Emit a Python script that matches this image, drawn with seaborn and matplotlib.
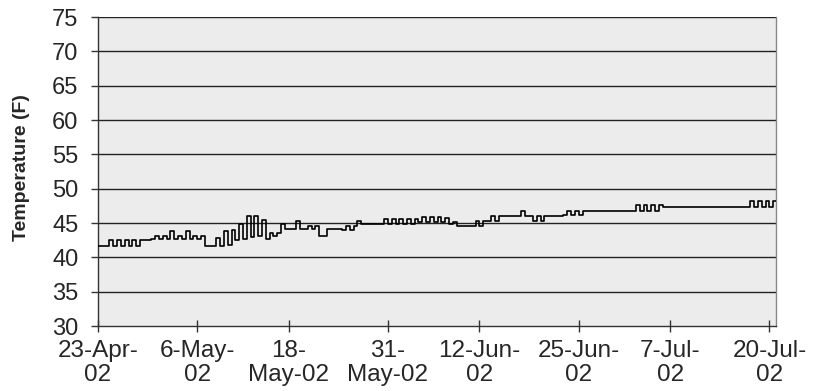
import matplotlib
matplotlib.use("Agg")
import matplotlib.pyplot as plt
import seaborn as sns
import pandas as pd

# Daily temperature readings (F) from 23-Apr-02: first and second half of each day
start_date = "2002-04-23"
temp_am = [
    41.7, 41.7, 41.7, 41.7, 41.7, 41.7, 42.5, 42.6, 42.6, 42.6,
    42.6, 42.6, 42.6, 42.6, 41.7, 41.7, 41.6, 41.8, 42.5, 42.7,
    43.0, 43.1, 42.7, 43.1, 44.8, 44.1, 45.3, 44.1, 44.1, 43.1,
    44.1, 44.1, 44.0, 44.0, 45.3, 44.8, 44.8, 44.8, 44.8, 44.8,
    44.8, 44.8, 45.1, 45.1, 45.1, 45.1, 44.9, 44.6, 44.6, 44.6,
    44.6, 45.3, 45.3, 46.0, 46.0, 46.0, 46.0, 45.3, 45.3, 46.0,
    46.0, 46.1, 46.1, 46.1, 46.8, 46.8, 46.8, 46.8, 46.8, 46.8,
    46.8, 46.8, 46.8, 46.8, 47.4, 47.4, 47.4, 47.4, 47.4, 47.4,
    47.4, 47.4, 47.4, 47.4, 47.4, 47.4, 47.4, 47.4, 47.4,
]
temp_pm = [
    41.7, 42.5, 42.5, 42.5, 42.5, 42.5, 42.5, 43.1, 43.1, 43.8,
    43.1, 43.8, 43.1, 43.1, 41.7, 42.8, 43.8, 44.0, 44.8, 46.0,
    46.0, 45.5, 43.5, 43.5, 44.1, 44.1, 44.1, 44.6, 44.6, 43.1,
    44.1, 44.1, 44.5, 44.5, 44.8, 44.8, 44.8, 45.6, 45.6, 45.6,
    45.6, 45.6, 45.9, 45.9, 45.9, 45.7, 45.2, 44.6, 44.6, 45.3,
    45.3, 46.0, 46.0, 46.0, 46.0, 46.7, 46.0, 46.0, 46.0, 46.0,
    46.0, 46.7, 46.7, 46.7, 46.8, 46.8, 46.8, 46.8, 46.8, 46.8,
    47.6, 47.6, 47.6, 47.6, 47.4, 47.4, 47.4, 47.4, 47.4, 47.4,
    47.4, 47.4, 47.4, 47.4, 47.4, 48.2, 48.2, 48.2, 48.2,
]
tick_dates = ["2002-04-23", "2002-05-06", "2002-05-18", "2002-05-31",
              "2002-06-12", "2002-06-25", "2002-07-07", "2002-07-20"]
tick_labels = ["23-Apr-\n02", "6-May-\n02", "18-\nMay-02", "31-\nMay-02",
               "12-Jun-\n02", "25-Jun-\n02", "7-Jul-\n02", "20-Jul-\n02"]
y_ticks = [30, 35, 40, 45, 50, 55, 60, 65, 70, 75]

t0 = pd.Timestamp(start_date)
times, temps = [], []
for d, (a, p) in enumerate(zip(temp_am, temp_pm)):
    times += [t0 + pd.Timedelta(days=d), t0 + pd.Timedelta(days=d + 0.5)]
    temps += [a, p]
times.append(t0 + pd.Timedelta(days=len(temp_am)))
temps.append(temp_pm[-1])
df = pd.DataFrame({"time": times, "temp": temps})

sns.set_theme(style="white")
plt.rcParams["font.family"] = ["Liberation Sans", "DejaVu Sans"]

fig = plt.figure(figsize=(8.16, 3.91), dpi=100)
ax = fig.add_axes([98 / 816, 1 - 326 / 391, (776 - 98) / 816, (326 - 17) / 391])
ax.set_facecolor("#ececec")

sns.lineplot(data=df, x="time", y="temp", ax=ax, color="black", linewidth=1.2,
             drawstyle="steps-post", estimator=None, sort=True, zorder=3)

ax.set_ylim(30, 75)
ax.set_yticks(y_ticks)
ax.set_xlim(t0, t0 + pd.Timedelta(days=88.86))
ax.set_xticks(pd.to_datetime(tick_dates))
ax.set_xticklabels(tick_labels, linespacing=1.1)

for v in y_ticks[1:]:
    ax.axhline(v, color="#222222", linewidth=1.0, zorder=1)

for s in ["left", "bottom"]:
    ax.spines[s].set_color("#333333")
    ax.spines[s].set_linewidth(1.0)
ax.spines["right"].set_color("#888888")
ax.spines["right"].set_linewidth(1.0)
ax.spines["top"].set_visible(False)

ax.tick_params(axis="y", direction="out", length=5, width=1, color="#333333",
               labelsize=17, pad=9, left=True)
ax.tick_params(axis="x", direction="inout", length=8.6, width=1, color="#333333",
               labelsize=17.5, pad=6, bottom=True)
ax.set_xlabel("")
ax.set_ylabel("")
fig.text(22 / 816, 1 - 168 / 391, "Temperature (F)", rotation=90, ha="center",
         va="center", fontsize=14, fontweight="bold")

fig.savefig("out.png", dpi=100, facecolor="white")
